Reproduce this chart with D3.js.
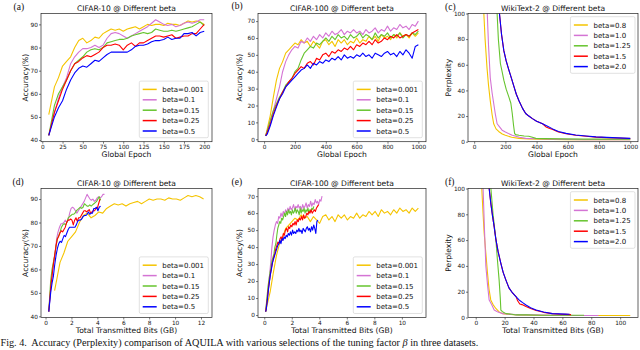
<!DOCTYPE html>
<html>
<head>
<meta charset="utf-8">
<script src="https://cdn.jsdelivr.net/npm/d3@7"></script>
<style>
  body { margin: 0; background: #fff; }
  svg { display: block; }
  text { font-family: "DejaVu Sans", sans-serif; fill: #111; }
</style>
</head>
<body>
<svg id="chart" width="640" height="350"></svg>
<script>
// ---- data ----
var accNames = ['beta=0.001', 'beta=0.1', 'beta=0.15', 'beta=0.25', 'beta=0.5'];
var pplNames = ['beta=0.8', 'beta=1.0', 'beta=1.25', 'beta=1.5', 'beta=2.0'];
var colors = ['#f5c400', '#d474d4', '#66c42e', '#ff0000', '#0000ff'];

// CIFAR-10, accuracy per global epoch
var epochsA = [8,15,20,25,30,35,40,45,50,55,60,65,70,75,80,85,90,95,100,105,110,115,120,125,130,135,140,145,150,155,160,165,170,175,180,185,190,195,200];
var c10Beta0001 = [51,63,67,72,74,76,80,83,84,82,83,84.5,84,86,87,88,87.5,88,87,88,88.5,89,88,89,90,89.5,90,90,89.5,90.5,90,90,89.5,90.5,91.5,91,91.5,91,90];
var c10Beta01 = [42,52,58,63,67,73,76,78,79.5,79.5,80,81,80,81,84,86,86.5,86,85,84,85,86,87,88,89,90.5,92,91,90,89.5,90,89,89.5,90.5,91,90.5,91,92,92];
var c10Beta015 = [42,55,60,63,66,70,73,74.5,76,78,79,79.5,79,80,82,82.5,83,83.5,83.5,84,85,85.5,86,86.5,86,86.5,88,87.5,87,87,87.5,87,87.5,88,88.5,89,90,91,89.5];
var c10Beta025 = [42,52,57,62,66,70,73,74,75.5,76.5,76,77,78,80,81,81,81.5,81,79,81,82,80.5,82,82,83,84,85,85,84.5,85,85.5,84,84.5,85,85,86,86,88,90];
var c10Beta05 = [42,50,54,57,62,66,69,71,72,71.5,73,74.5,74,75.5,77,78,78,78,78,78,79,80.5,81,81,81.5,82.5,83,83,83.5,84.5,83.5,84,84,86,86,86.5,85,86.5,87];
// CIFAR-10 transmitted GB at first and last epoch
var c10GbFirst = [0.7, 0.25, 0.25, 0.25, 0.25];
var c10GbLast = [12.2, 4.55, 4.25, 4.2, 4.25];

// CIFAR-100, accuracy per global epoch
var epochsB = [10,20,40,60,80,100,120,140,160,180,200,220,240,260,280,300,320,340,360,380,400,420,440,460,480,500,520,540,560,580,600,620,640,660,680,700,720,740,760,780,800,820,840,860,880,900,920,940,960,980,1000];
var c100Beta0001 = [2,6,14,25,35,42,46,51,53,55,57,56,59,57,58,55,58,56,54,58,59,56,58,55,59,57,59,56,58,57,60,57,59,58,61,59,61,58,62,60,61,59,62,60,63,61,62,60,63,61,63];
var c100Beta01 = [2,5,11,17,24,31,40,46,50,53,55,54,58,57,60,58,61,59,62,60,63,61,64,62,63,65,62,64,63,65,63,64,62,65,63,64,66,63,65,64,67,64,66,65,68,66,67,65,68,67,70];
var c100Beta015 = [2,5,11,17,21,25,28,32,34,36,40,42,47,51,53,55,54,57,56,58,60,58,61,59,62,60,61,59,62,60,61,63,60,62,61,59,63,60,62,61,63,60,62,61,63,60,62,61,63,62,64];
var c100Beta025 = [2,4,9,15,20,24,28,31,34,36,39,41,43,42,45,46,44,48,47,50,51,49,52,51,53,52,54,53,55,53,56,55,57,56,58,56,59,57,58,60,59,61,60,62,60,61,62,61,63,64,65];
var c100Beta05 = [2,3,8,14,19,24,27,31,33,35,37,39,41,42,44,42,45,44,46,45,47,46,48,47,49,47,50,48,49,48,50,49,51,49,50,48,51,50,49,51,52,50,51,49,52,50,53,51,48,55,56];
var c100GbFirst = [0.1, 0.1, 0.1, 0.1, 0.1];
var c100GbLast = [11.2, 4.2, 3.6, 3.95, 3.9];

// WikiText-2, perplexity per global epoch
var wkEpochB08 = [55,62,70,82,92,103,115,125,140,157,180,200,240,287,350,400,500,600,700,800,900,1000];
var wkPplB08 = [130,100,80,58,44,32,21,14,10,8,6,5,3.5,2.6,2.2,2,1.8,1.6,1.5,1.5,1.5,1.5];
var wkEpochB10 = [78,84,92,103,115,125,135,147,160,179,200,244,290,330,400,500,600,700,800,900,1000];
var wkPplB10 = [130,100,75,50,38,30,22,14,12,9,7.5,5,3.5,2.6,2.3,2,1.8,1.6,1.5,1.5,1.5];
var wkEpochB125 = [140,147,155,168,180,190,205,222,235,244,252,259,265,287,320,350,373,395,450,550,700,850,1000];
var wkPplB125 = [130,100,80,61,54,48,41,35,30,22,13,6.5,5.5,5,4.5,4.2,3.5,2.6,2.4,2.2,2,2,2];
var wkEpochB15 = [155,162,175,190,205,222,240,255,270,287,310,330,350,373,400,438,460,480,503,540,589,650,718,780,848,920,1000];
var wkPplB15 = [130,100,84,71,63,56,49,43,37,32,26,22,20,18,16,14,11.5,10.5,9.5,7.5,6.2,5,4.2,3.6,3.2,2.9,2.5];
var wkEpochB20 = [155,162,175,190,205,222,240,255,270,287,310,330,350,373,400,438,470,503,540,589,650,718,780,848,920,1000];
var wkPplB20 = [130,100,84,71,63,56,49,43,37,32,26,22,20,18,16,14,12,10,8,6.5,5.2,4.4,3.8,3.4,3,2.6];

// WikiText-2, perplexity per transmitted GB
var wkGbB08 = [3.5,4.2,5,5.8,7,8.1,9.2,10.4,12,13.9,16,18.6,24,30,40,55,70,85,100,107];
var wkGbPplB08 = [130,100,82,66,50,35,22,13.6,10,7,4.5,3,2.4,2,1.8,1.6,1.5,1.5,1.5,1.5];
var wkGbB10 = [4.5,5.1,6,7,8.2,9.3,11,12.8,15,18.6,25,30,40,55,70,85];
var wkGbPplB10 = [130,100,70,40,25,13.6,10,5.8,4.5,3,2.4,2,2,1.7,1.6,1.5];
var wkGbB125 = [9.5,10.5,12,13.9,15,16.2,17,17.4,18.5,21,25,28,35,45,60,75];
var wkGbPplB125 = [130,100,80,61,45,29,15,5.8,4.5,3,2.5,2,2,1.8,1.8,1.8];
var wkGbB15 = [8.5,9.3,10.5,11.6,12.8,13.9,15.5,17.4,19,20.9,23,25.5,28,29,30.5,32,34.8,38,41.8,47,53,58,62,66];
var wkGbPplB15 = [130,100,88,79,70,61,51,42,35,29,23,19,16,13,10.5,10,8.5,7,5.5,4,3,2.6,2.4,2.2];
var wkGbB20 = [8.5,9.3,10.5,11.6,12.8,13.9,15.5,17.4,19,20.9,23,25.5,28,30,32.5,34.8,38,41.8,47,53,58,62,65];
var wkGbPplB20 = [130,100,88,79,70,61,51,42,35,29,23,19,16,13.6,11.5,9.7,7.5,5.8,4.2,3,2.8,2.6,2.5];

// ---- layout ----
var svg = d3.select('#chart');
var cols = [{l: 41, r: 212, yl: 25}, {l: 258, r: 426, yl: 239.5}, {l: 468, r: 638, yl: 448.5}];
var rows = [{t: 13.5, b: 141.7}, {t: 188.5, b: 317.5}];

function toGb(epochs, first, last) {
  var e0 = epochs[0], e1 = epochs[epochs.length - 1];
  return epochs.map(function (e) { return first + (e - e0) / (e1 - e0) * (last - first); });
}

var accA = [c10Beta0001, c10Beta01, c10Beta015, c10Beta025, c10Beta05];
var accB = [c100Beta0001, c100Beta01, c100Beta015, c100Beta025, c100Beta05];

var panels = [
  {id: 'a', col: 0, row: 0, xDomain: [-1.6, 209.6], yDomain: [39.3, 94.7],
   xTicks: [0,25,50,75,100,125,150,175,200], yTicks: [40,50,60,70,80,90],
   title: 'CIFAR-10 @ Different beta', xLabel: 'Global Epoch', yLabel: 'Accuracy(%)',
   names: accNames, legend: 'lr',
   series: accA.map(function (v) { return {x: epochsA, y: v}; })},
  {id: 'b', col: 1, row: 0, xDomain: [-39.5, 1049.5], yDomain: [-1.45, 74.5],
   xTicks: [0,200,400,600,800,1000], yTicks: [0,10,20,30,40,50,60,70],
   title: 'CIFAR-100 @ Different beta', xLabel: 'Global Epoch', yLabel: 'Accuracy(%)',
   names: accNames, legend: 'lr',
   series: accB.map(function (v) { return {x: epochsB, y: v}; })},
  {id: 'c', col: 2, row: 0, xDomain: [-39.5, 1049.5], yDomain: [0, 100],
   xTicks: [0,200,400,600,800,1000], yTicks: [0,20,40,60,80,100],
   title: 'WikiText-2 @ Different beta', xLabel: 'Global Epoch', yLabel: 'Perplexity',
   names: pplNames, legend: 'ur',
   series: [{x: wkEpochB08, y: wkPplB08}, {x: wkEpochB10, y: wkPplB10}, {x: wkEpochB125, y: wkPplB125},
            {x: wkEpochB15, y: wkPplB15}, {x: wkEpochB20, y: wkPplB20}]},
  {id: 'd', col: 0, row: 1, xDomain: [-0.35, 12.85], yDomain: [39.5, 94.5],
   xTicks: [0,2,4,6,8,10,12], yTicks: [40,50,60,70,80,90],
   title: 'CIFAR-10 @ Different beta', xLabel: 'Total Transmitted Bits (GB)', yLabel: 'Accuracy(%)',
   names: accNames, legend: 'lr',
   series: accA.map(function (v, i) { return {x: toGb(epochsA, c10GbFirst[i], c10GbLast[i]), y: v}; })},
  {id: 'e', col: 1, row: 1, xDomain: [-0.455, 11.755], yDomain: [-1.45, 74.5],
   xTicks: [0,2,4,6,8,10], yTicks: [0,10,20,30,40,50,60,70],
   title: 'CIFAR-100 @ Different beta', xLabel: 'Total Transmitted Bits (GB)', yLabel: 'Accuracy(%)',
   names: accNames, legend: 'lr',
   series: accB.map(function (v, i) { return {x: toGb(epochsB, c100GbFirst[i], c100GbLast[i]), y: v}; })},
  {id: 'f', col: 2, row: 1, xDomain: [-5.35, 112.35], yDomain: [0, 100],
   xTicks: [0,20,40,60,80,100], yTicks: [0,20,40,60,80,100],
   title: 'WikiText-2 @ Different beta', xLabel: 'Total Transmitted Bits (GB)', yLabel: 'Perplexity',
   names: pplNames, legend: 'ur',
   series: [{x: wkGbB08, y: wkGbPplB08}, {x: wkGbB10, y: wkGbPplB10}, {x: wkGbB125, y: wkGbPplB125},
            {x: wkGbB15, y: wkGbPplB15}, {x: wkGbB20, y: wkGbPplB20}]}
];

function drawPanel(p) {
  var c = cols[p.col], r = rows[p.row];
  var x = d3.scaleLinear().domain(p.xDomain).range([c.l, c.r]);
  var y = d3.scaleLinear().domain(p.yDomain).range([r.b, r.t]);
  var g = svg.append('g');

  g.append('clipPath').attr('id', 'clip' + p.id)
    .append('rect').attr('x', c.l).attr('y', r.t).attr('width', c.r - c.l).attr('height', r.b - r.t);

  var line = d3.line().x(function (d) { return x(d[0]); }).y(function (d) { return y(d[1]); });
  p.series.forEach(function (s, i) {
    g.append('path').datum(d3.zip(s.x, s.y))
      .attr('clip-path', 'url(#clip' + p.id + ')')
      .attr('fill', 'none').attr('stroke', colors[i]).attr('stroke-width', 1.1)
      .attr('stroke-linejoin', 'round').attr('d', line);
  });

  var xa = g.append('g').attr('transform', 'translate(0,' + r.b + ')')
    .call(d3.axisBottom(x).tickValues(p.xTicks).tickSize(2).tickPadding(1).tickFormat(d3.format('d')));
  var ya = g.append('g').attr('transform', 'translate(' + c.l + ',0)')
    .call(d3.axisLeft(y).tickValues(p.yTicks).tickSize(2).tickPadding(1).tickFormat(d3.format('d')));
  [xa, ya].forEach(function (a) {
    a.select('.domain').remove();
    a.attr('font-size', 5.8).attr('font-family', '"DejaVu Sans", sans-serif');
    a.selectAll('line').attr('stroke', '#222').attr('stroke-width', 0.6);
  });

  g.append('rect').attr('x', c.l).attr('y', r.t).attr('width', c.r - c.l).attr('height', r.b - r.t)
    .attr('fill', 'none').attr('stroke', '#222').attr('stroke-width', 0.7);

  g.append('text').attr('x', (c.l + c.r) / 2).attr('y', r.t - 2.5)
    .attr('text-anchor', 'middle').attr('font-size', 7.6).text(p.title);
  g.append('text').attr('x', (c.l + c.r) / 2).attr('y', r.b + 15.5)
    .attr('text-anchor', 'middle').attr('font-size', 7.6).text(p.xLabel);
  g.append('text').attr('transform', 'translate(' + c.yl + ',' + (r.t + r.b) / 2 + ') rotate(-90)')
    .attr('dy', '0.35em').attr('text-anchor', 'middle').attr('font-size', 7.6).text(p.yLabel);

  // legend
  var rowH = 10.4;
  var lg = g.append('g');
  var items = lg.selectAll('g.item').data(p.names).enter().append('g');
  items.append('line').attr('x1', 3.4).attr('x2', 17.4).attr('y1', function (d, i) { return 8.3 + i * rowH; })
    .attr('y2', function (d, i) { return 8.3 + i * rowH; })
    .attr('stroke', function (d, i) { return colors[i]; }).attr('stroke-width', 1.5);
  var texts = items.append('text').attr('x', 23).attr('y', function (d, i) { return 8.3 + i * rowH; })
    .attr('dy', '0.36em').attr('font-size', 7).text(function (d) { return d; });
  var tw = d3.max(texts.nodes(), function (n) { return n.getComputedTextLength(); });
  var W = 23 + tw + 4.3, H = 8.3 + 4 * rowH + 6.7;
  lg.insert('rect', ':first-child').attr('width', W).attr('height', H).attr('rx', 1.5)
    .attr('fill', '#fff').attr('fill-opacity', 0.8).attr('stroke', '#ccc').attr('stroke-width', 0.6);
  var bx, by;
  if (p.legend === 'lr') { bx = c.r - 3.7 - W; by = r.b - 4 - H; }
  else { bx = c.r - 3 - W; by = r.t + 3.2; }
  lg.attr('transform', 'translate(' + bx + ',' + by + ')');
}

panels.forEach(drawPanel);

// panel tags
var tags = ['(a)', '(b)', '(c)', '(d)', '(e)', '(f)'];
var tagPos = [[13.5, 10], [231.5, 8.5], [445, 9.5], [12.5, 185], [231.5, 185], [445, 185]];
svg.selectAll('text.tag').data(tags).enter().append('text')
  .attr('x', function (d, i) { return tagPos[i][0]; })
  .attr('y', function (d, i) { return tagPos[i][1]; })
  .style('font-family', '"Liberation Serif", serif').attr('font-size', 9.5).text(function (d) { return d; });

// caption
var cap = svg.append('text').attr('x', 0.5).attr('y', 345.5)
  .style('font-family', '"Liberation Serif", serif').style('white-space', 'pre').attr('font-size', 10.2);
cap.append('tspan').text('Fig. 4.  Accuracy (Perplexity) comparison of AQUILA with various selections of the tuning factor ');
cap.append('tspan').style('font-style', 'italic').text('\u03b2');
cap.append('tspan').text(' in three datasets.');
</script>
</body>
</html>
